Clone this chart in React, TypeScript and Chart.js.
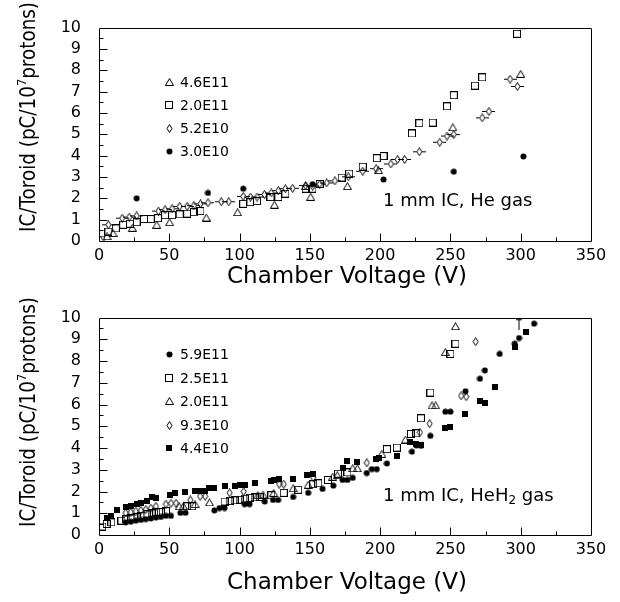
import React, { useEffect, useRef } from "react";
import { Chart, registerables } from "chart.js";
Chart.register(...registerables);

const FONT = '"DejaVu Sans", sans-serif';

// ---------------- Top panel: 1 mm IC, He gas ----------------
const topLabels = ["4.6E11", "2.0E11", "5.2E10", "3.0E10"];
const top46E11: [number, number][] = [
  [1, 0.07], [5.7, 0.22], [10, 0.37], [23.7, 0.62], [41.1, 0.76], [50.2, 0.88], [76.3, 1.1], [98.6, 1.35],
  [124.8, 1.7], [147, 2.58], [150.6, 2.07], [176.7, 2.57], [198.8, 3.32], [251.7, 5.33], [300, 7.83],
];
const top20E11: [number, number][] = [
  [1.7, 0.07], [6.7, 0.44], [12, 0.59], [17.2, 0.76], [22, 0.81], [26.8, 0.88], [32, 1.03], [36.8, 1.03],
  [41.9, 1.07], [47, 1.21], [52, 1.21], [57.4, 1.25], [62.7, 1.28], [67.5, 1.35], [72.2, 1.4], [102.6, 1.74],
  [107.7, 1.82], [112.4, 1.87], [122, 2.06], [127.6, 2.06], [132.6, 2.22], [147, 2.45], [151.8, 2.45],
  [157, 2.67], [172.6, 2.97], [178, 3.16], [187.6, 3.48], [197.6, 3.88], [202.4, 3.98], [222.6, 5.04],
  [227.9, 5.52], [237.4, 5.55], [247.6, 6.31], [252.4, 6.83], [267.4, 7.28], [272.6, 7.67], [297.4, 9.71],
];
const top52E10: [number, number][] = [
  [6.7, 0.76], [16.5, 1.07], [21.5, 1.12], [26.8, 1.18], [42.3, 1.4], [47, 1.47], [52, 1.51], [57.4, 1.62],
  [62.7, 1.62], [67.5, 1.66], [72.2, 1.74], [77.5, 1.79], [87, 1.84], [92.3, 1.84], [102.6, 2.09], [107.7, 2.06],
  [112.4, 2.06], [117.7, 2.18], [122.5, 2.25], [127.6, 2.36], [132.6, 2.45], [137.7, 2.47], [147, 2.6],
  [152, 2.57], [157, 2.67], [162, 2.72], [167.8, 2.82], [177.4, 3.01], [187.6, 3.27], [197.1, 3.39],
  [207.6, 3.61], [212.4, 3.82], [217.4, 3.82], [227.9, 4.18], [242.4, 4.63], [247.6, 4.92], [252.4, 4.99],
  [272.6, 5.77], [277.4, 6.07], [292.4, 7.58], [297.6, 7.24],
];
const top30E10: [number, number][] = [
  [26.8, 2.0], [77.5, 2.25], [102.6, 2.45], [152, 2.66], [202.4, 2.88], [252.4, 3.25], [301.9, 3.96],
];
const topClipped: [number, number][] = [[301.5, 9.95]];

// ---------------- Bottom panel: 1 mm IC, HeH2 gas ----------------
const botLabels = ["5.9E11", "2.5E11", "2.0E11", "9.3E10", "4.4E10"];
const bot59E11: [number, number][] = [
  [19, 0.58], [22.6, 0.61], [26.2, 0.66], [29.8, 0.69], [33.3, 0.73], [36.9, 0.76], [40.5, 0.8], [44, 0.83],
  [47.6, 0.88], [51.2, 0.88], [57.9, 1.02], [61.5, 1.02], [82.1, 1.13], [85.7, 1.24], [89.3, 1.24],
  [103.6, 1.42], [107.1, 1.42], [117.9, 1.54], [123.8, 1.61], [127.4, 1.61], [138.1, 1.75], [148.8, 1.94],
  [159, 2.12], [166.7, 2.27], [173.3, 2.53], [176.7, 2.53], [180.5, 2.63], [190.5, 2.85], [194.1, 3.03],
  [197.6, 3.03], [204.8, 3.29], [222.6, 3.83], [225.7, 4.12], [229, 4.1], [235.7, 4.56], [246.4, 5.67],
  [250, 5.67], [260.7, 6.61], [271, 7.19], [274.5, 7.57], [285, 8.33], [295.7, 8.8], [298.8, 9.06], [309.5, 9.72],
];
const bot25E11: [number, number][] = [
  [2.4, 0.39], [5.5, 0.51], [8.8, 0.58], [16, 0.66], [19.5, 0.72], [23.1, 0.76], [26.7, 0.83], [30.2, 0.88],
  [33.8, 0.95], [37.4, 0.99], [40.7, 1.05], [44, 1.05], [47.6, 1.1], [62.7, 1.32], [66.3, 1.32], [89.3, 1.54],
  [92.9, 1.56], [96.4, 1.59], [100, 1.62], [103.6, 1.67], [107.1, 1.71], [110.7, 1.73], [114.3, 1.75],
  [122.6, 1.83], [131.4, 1.94], [141.7, 2.08], [152.4, 2.34], [156, 2.38], [162.9, 2.53], [170, 2.82],
  [176.7, 2.88], [204.8, 3.95], [211.9, 4.02], [221.9, 4.65], [225.7, 4.68], [229, 5.37], [235.7, 6.55],
  [250, 8.33], [253.6, 8.8],
];
const bot20E11: [number, number][] = [
  [57, 1.32], [60, 1.32], [68.3, 1.42], [78.6, 1.5], [113, 1.83], [116.7, 1.86], [124.3, 1.94], [138.1, 2.15],
  [148.8, 2.31], [166.2, 2.68], [169.5, 2.75], [180.5, 3.07], [183.8, 3.07], [201.2, 3.73], [217.9, 4.39],
  [236.9, 5.96], [239.5, 5.96], [246.4, 8.41], [253.6, 9.6],
];
const bot93E10: [number, number][] = [
  [19, 1.02], [22.6, 1.05], [26.2, 1.1], [29.8, 1.13], [33.3, 1.17], [36.9, 1.24], [40.5, 1.32], [47.6, 1.42],
  [51.2, 1.46], [54.8, 1.46], [65, 1.61], [71.9, 1.78], [75.5, 1.78], [92.9, 1.94], [102.9, 2.0], [128.1, 2.34],
  [131.4, 2.34], [152.4, 2.63], [190.5, 3.32], [228.3, 4.72], [235.2, 5.12], [257.6, 6.4], [261.2, 6.36],
  [267.9, 8.89],
];
const bot44E10: [number, number][] = [
  [5.5, 0.77], [8.8, 0.88], [12.6, 1.17], [19.5, 1.27], [23.1, 1.35], [26.7, 1.42], [30.2, 1.49], [33.8, 1.56],
  [37.4, 1.75], [40.7, 1.68], [50.7, 1.86], [54.3, 1.93], [61.2, 1.97], [68.3, 2.03], [71.9, 2.03], [75.5, 2.03],
  [78.6, 2.15], [82.1, 2.15], [89.3, 2.27], [96.4, 2.27], [100, 2.32], [103.6, 2.32], [110.7, 2.38],
  [122.6, 2.5], [124.3, 2.53], [127.9, 2.56], [138.1, 2.56], [148.3, 2.78], [152.4, 2.81], [173.3, 3.1],
  [176.7, 3.41], [183.8, 3.36], [197.1, 3.51], [199.5, 3.54], [211.9, 3.65], [221.4, 4.27], [225.5, 4.17],
  [228.8, 4.12], [246.4, 4.93], [250, 4.97], [260.7, 5.56], [271, 6.17], [274.5, 6.07], [281.9, 6.8],
  [295.7, 8.65], [303.8, 9.33],
];
const botArrowLine: [number, number][] = [[298.8, 9.43], [298.8, 10.0]];
const botArrowBar: [number, number][] = [[298.8, 9.9]];

const xTicks = [0, 50, 100, 150, 200, 250, 300, 350];
const yTicks = [0, 1, 2, 3, 4, 5, 6, 7, 8, 9, 10];

type Markers = Record<string, HTMLCanvasElement>;

function mk(w: number, h: number, draw: (g: CanvasRenderingContext2D) => void) {
  const c = document.createElement("canvas");
  c.width = w;
  c.height = h;
  const g = c.getContext("2d")!;
  g.strokeStyle = "#000";
  g.fillStyle = "#000";
  g.lineWidth = 1;
  draw(g);
  return c;
}

function makeMarkers(): Markers {
  const diamond = (g: CanvasRenderingContext2D, cx: number) => {
    g.beginPath();
    g.moveTo(cx, 0.5);
    g.lineTo(cx + 2.5, 4.5);
    g.lineTo(cx, 8.5);
    g.lineTo(cx - 2.5, 4.5);
    g.closePath();
    g.stroke();
  };
  return {
    tri: mk(9, 8, (g) => {
      g.beginPath();
      g.moveTo(4.5, 0.5);
      g.lineTo(8.5, 7.5);
      g.lineTo(0.5, 7.5);
      g.closePath();
      g.stroke();
    }),
    sq: mk(8, 8, (g) => g.strokeRect(0.5, 0.5, 7, 7)),
    dia: mk(7, 9, (g) => diamond(g, 3.5)),
    diaW: mk(13, 9, (g) => {
      diamond(g, 6.5);
      g.beginPath();
      g.moveTo(0, 4.5);
      g.lineTo(4, 4.5);
      g.moveTo(9, 4.5);
      g.lineTo(13, 4.5);
      g.stroke();
    }),
    dot: mk(7, 7, (g) => {
      g.beginPath();
      g.arc(3.5, 3.5, 3, 0, Math.PI * 2);
      g.fill();
    }),
    fsq: mk(6, 6, (g) => g.fillRect(0, 0, 6, 6)),
  };
}

function pts(a: [number, number][]) {
  return a.map(([x, y]) => ({ x, y }));
}

function scatter(data: [number, number][], marker: HTMLCanvasElement) {
  return {
    type: "scatter" as const,
    data: pts(data),
    pointStyle: marker,
    pointRadius: 3,
    showLine: false,
  };
}

interface PanelSpec {
  canvasH: number;
  areaTop: number;
  areaBottom: number;
  datasets: any[];
  legend: { label: string; marker: HTMLCanvasElement }[];
  legendRows: number[];
  noteMain: string;
  noteSub: string;
  noteTail: string;
  noteY: number;
  yTitleCenter: number;
  xTitleBaseline: number;
}

function drawYTitle(ctx: CanvasRenderingContext2D, cx: number, cy: number, target: number) {
  ctx.save();
  ctx.translate(cx, cy);
  ctx.rotate(-Math.PI / 2);
  const F = 21;
  const FS = 13;
  const p1 = "IC/Toroid (pC/10";
  const sup = "7";
  const p2 = "protons)";
  ctx.font = `${F}px ${FONT}`;
  const w1 = ctx.measureText(p1).width;
  const w2 = ctx.measureText(p2).width;
  ctx.font = `${FS}px ${FONT}`;
  const ws = ctx.measureText(sup).width;
  const total = w1 + ws + w2;
  const s = Math.min(1, target / total);
  ctx.scale(s, 1);
  ctx.fillStyle = "#000";
  ctx.textAlign = "left";
  ctx.textBaseline = "alphabetic";
  let x = -total / 2;
  ctx.font = `${F}px ${FONT}`;
  ctx.fillText(p1, x, 0);
  x += w1;
  ctx.font = `${FS}px ${FONT}`;
  ctx.fillText(sup, x, -9);
  x += ws;
  ctx.font = `${F}px ${FONT}`;
  ctx.fillText(p2, x, 0);
  ctx.restore();
}

function decorPlugin(spec: PanelSpec) {
  return {
    id: "decor",
    afterDraw(chart: any) {
      const { ctx, chartArea: a, scales } = chart;
      const xs = scales.x;
      const ys = scales.y;
      ctx.save();
      ctx.strokeStyle = "#000";
      ctx.lineWidth = 1;
      const L = Math.round(a.left) + 0.5;
      const T = Math.round(a.top) + 0.5;
      const R = Math.round(a.right) + 0.5;
      const B = Math.round(a.bottom) + 0.5;
      ctx.beginPath();
      ctx.moveTo(L, T);
      ctx.lineTo(R, T);
      ctx.lineTo(R, B);
      ctx.lineTo(L, B);
      ctx.closePath();
      ctx.stroke();
      // inner tick marks
      ctx.beginPath();
      for (let v = 25; v < 350; v += 25) {
        const px = Math.round(xs.getPixelForValue(v)) + 0.5;
        const len = v % 50 === 0 ? 8 : 4;
        ctx.moveTo(px, B);
        ctx.lineTo(px, B - len);
      }
      for (let v = 0.5; v < 10; v += 0.5) {
        const py = Math.round(ys.getPixelForValue(v)) + 0.5;
        const len = Math.abs(v - Math.round(v)) < 1e-6 ? 8 : 4;
        ctx.moveTo(L, py);
        ctx.lineTo(L + len, py);
      }
      ctx.stroke();

      // legend
      ctx.fillStyle = "#000";
      ctx.font = `14px ${FONT}`;
      ctx.textAlign = "left";
      ctx.textBaseline = "middle";
      spec.legend.forEach((e, i) => {
        const y = spec.legendRows[i];
        const m = e.marker;
        ctx.drawImage(m, Math.round(169 - m.width / 2), Math.round(y - m.height / 2));
        ctx.fillText(e.label, 180, y + 1);
      });

      // note
      ctx.font = `18px ${FONT}`;
      let nx = 383;
      ctx.fillText(spec.noteMain, nx, spec.noteY);
      nx += ctx.measureText(spec.noteMain).width;
      if (spec.noteSub) {
        ctx.font = `12px ${FONT}`;
        ctx.fillText(spec.noteSub, nx, spec.noteY + 5);
        nx += ctx.measureText(spec.noteSub).width;
        ctx.font = `18px ${FONT}`;
      }
      ctx.fillText(spec.noteTail, nx, spec.noteY);

      // x title
      ctx.font = `23px ${FONT}`;
      ctx.textAlign = "center";
      ctx.textBaseline = "alphabetic";
      ctx.fillText("Chamber Voltage (V)", 347, spec.xTitleBaseline);

      // y title
      drawYTitle(ctx, 35, spec.yTitleCenter, 230);
      ctx.restore();
    },
  };
}

function makeChart(canvas: HTMLCanvasElement, spec: PanelSpec) {
  return new Chart(canvas, {
    type: "scatter",
    data: { datasets: spec.datasets },
    options: {
      responsive: false,
      animation: false,
      devicePixelRatio: 1,
      events: [],
      layout: { padding: { top: spec.areaTop, right: 29, left: 0, bottom: 0 } },
      plugins: { legend: { display: false }, tooltip: { enabled: false } },
      scales: {
        x: {
          type: "linear",
          min: 0,
          max: 350,
          afterBuildTicks: (s: any) => {
            s.ticks = xTicks.map((v) => ({ value: v }));
          },
          ticks: {
            color: "#000",
            font: { family: FONT, size: 16 },
            padding: 5,
            maxRotation: 0,
            autoSkip: false,
          },
          grid: { display: false, drawTicks: false },
          border: { display: false },
          afterFit: (s: any) => {
            s.height = spec.canvasH - spec.areaBottom;
          },
        },
        y: {
          type: "linear",
          min: 0,
          max: 10,
          afterBuildTicks: (s: any) => {
            s.ticks = yTicks.map((v) => ({ value: v }));
          },
          ticks: {
            color: "#000",
            font: { family: FONT, size: 16 },
            padding: 18,
            autoSkip: false,
          },
          grid: { display: false, drawTicks: false },
          border: { display: false },
          afterFit: (s: any) => {
            s.width = 99;
          },
        },
      },
    } as any,
    plugins: [decorPlugin(spec)],
  });
}

export default function App() {
  const topRef = useRef<HTMLCanvasElement>(null);
  const botRef = useRef<HTMLCanvasElement>(null);

  useEffect(() => {
    const m = makeMarkers();
    const topSpec: PanelSpec = {
      canvasH: 290,
      areaTop: 13,
      areaBottom: 241,
      datasets: [
        scatter(top46E11, m.tri),
        scatter(top20E11, m.sq),
        scatter(top52E10, m.diaW),
        scatter(top30E10, m.dot),
        {
          type: "scatter",
          data: pts(topClipped),
          pointStyle: "line",
          pointRadius: 3.5,
          borderColor: "#000",
          borderWidth: 1,
        },
      ],
      legend: [
        { label: topLabels[0], marker: m.tri },
        { label: topLabels[1], marker: m.sq },
        { label: topLabels[2], marker: m.dia },
        { label: topLabels[3], marker: m.dot },
      ],
      legendRows: [82, 105, 128, 151],
      noteMain: "1 mm IC, He gas",
      noteSub: "",
      noteTail: "",
      noteY: 201,
      yTitleCenter: 117,
      xTitleBaseline: 283,
    };
    const botSpec: PanelSpec = {
      canvasH: 312,
      areaTop: 16,
      areaBottom: 245,
      datasets: [
        scatter(bot59E11, m.dot),
        scatter(bot25E11, m.sq),
        scatter(bot20E11, m.tri),
        scatter(bot93E10, m.dia),
        scatter(bot44E10, m.fsq),
        {
          type: "line",
          data: pts(botArrowLine),
          showLine: true,
          borderColor: "#000",
          borderWidth: 1,
          pointRadius: 0,
        },
        {
          type: "scatter",
          data: pts(botArrowBar),
          pointStyle: "line",
          pointRadius: 3,
          borderColor: "#000",
          borderWidth: 1,
        },
      ],
      legend: [
        { label: botLabels[0], marker: m.dot },
        { label: botLabels[1], marker: m.sq },
        { label: botLabels[2], marker: m.tri },
        { label: botLabels[3], marker: m.dia },
        { label: botLabels[4], marker: m.fsq },
      ],
      legendRows: [64, 88, 111, 135, 158],
      noteMain: "1 mm IC, HeH",
      noteSub: "2",
      noteTail: " gas",
      noteY: 206,
      yTitleCenter: 122,
      xTitleBaseline: 299,
    };
    const c1 = makeChart(topRef.current!, topSpec);
    const c2 = makeChart(botRef.current!, botSpec);
    return () => {
      c1.destroy();
      c2.destroy();
    };
  }, []);

  return (
    <div style={{ position: "absolute", left: 0, top: 0, width: 620, height: 602, background: "#fff" }}>
      <canvas ref={topRef} width={620} height={290} style={{ position: "absolute", left: 0, top: 0, display: "block" }} />
      <canvas ref={botRef} width={620} height={312} style={{ position: "absolute", left: 0, top: 290, display: "block" }} />
    </div>
  );
}
